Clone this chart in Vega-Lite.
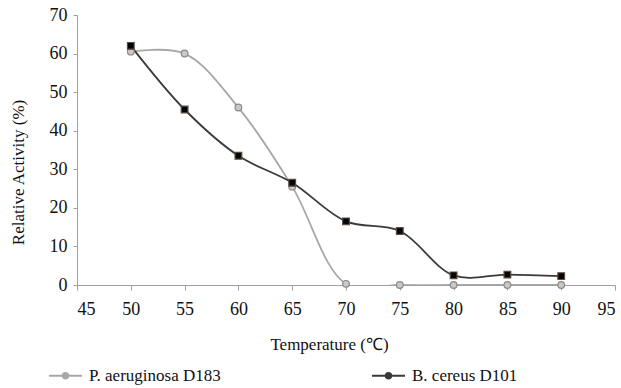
{
  "$schema": "https://vega.github.io/schema/vega-lite/v6.json",
  "width": 538,
  "height": 270,
  "autosize": {"type": "none"},
  "padding": {"left": 77, "top": 15, "right": 6, "bottom": 103},
  "background": "white",
  "config": {
    "view": {"stroke": null},
    "font": "Liberation Serif"
  },
  "data": {
    "values": [
      {"strain": "P. aeruginosa D183", "temp": 50, "activity": 60.5},
      {"strain": "P. aeruginosa D183", "temp": 55, "activity": 60},
      {"strain": "P. aeruginosa D183", "temp": 60, "activity": 46},
      {"strain": "P. aeruginosa D183", "temp": 65, "activity": 25.5},
      {"strain": "P. aeruginosa D183", "temp": 70, "activity": 0.3},
      {"strain": "P. aeruginosa D183", "temp": 75, "activity": 0},
      {"strain": "P. aeruginosa D183", "temp": 80, "activity": 0},
      {"strain": "P. aeruginosa D183", "temp": 85, "activity": 0},
      {"strain": "P. aeruginosa D183", "temp": 90, "activity": 0},
      {"strain": "B. cereus D101", "temp": 50, "activity": 62},
      {"strain": "B. cereus D101", "temp": 55, "activity": 45.5},
      {"strain": "B. cereus D101", "temp": 60, "activity": 33.5},
      {"strain": "B. cereus D101", "temp": 65, "activity": 26.5},
      {"strain": "B. cereus D101", "temp": 70, "activity": 16.5},
      {"strain": "B. cereus D101", "temp": 75, "activity": 14},
      {"strain": "B. cereus D101", "temp": 80, "activity": 2.5},
      {"strain": "B. cereus D101", "temp": 85, "activity": 2.7},
      {"strain": "B. cereus D101", "temp": 90, "activity": 2.3}
    ]
  },
  "encoding": {
    "x": {
      "field": "temp",
      "type": "quantitative",
      "scale": {"domain": [45, 95], "nice": false, "zero": false},
      "axis": {
        "title": "Temperature (℃)",
        "values": [45, 50, 55, 60, 65, 70, 75, 80, 85, 90, 95],
        "grid": false,
        "domainColor": "#a0a0a0",
        "tickColor": "#a0a0a0",
        "tickSize": 5,
        "labelFont": "Liberation Serif",
        "labelFontSize": 18,
        "labelColor": "#111",
        "labelPadding": 10,
        "titleFont": "Liberation Serif",
        "titleFontSize": 17,
        "titleFontWeight": "normal",
        "titleColor": "#111",
        "titlePadding": 18,
        "titleX": 252
      }
    },
    "y": {
      "field": "activity",
      "type": "quantitative",
      "scale": {"domain": [0, 70], "nice": false},
      "axis": {
        "title": "Relative Activity (%)",
        "values": [0, 10, 20, 30, 40, 50, 60, 70],
        "grid": false,
        "domainColor": "#a0a0a0",
        "tickColor": "#a0a0a0",
        "tickSize": 4,
        "labelFont": "Liberation Serif",
        "labelFontSize": 18,
        "labelColor": "#111",
        "labelPadding": 6,
        "titleFont": "Liberation Serif",
        "titleFontSize": 17,
        "titleFontWeight": "normal",
        "titleColor": "#111",
        "titlePadding": 22,
        "titleY": 157
      }
    }
  },
  "layer": [
    {
      "mark": {"type": "line", "interpolate": "catmull-rom", "strokeWidth": 1.8, "clip": true},
      "encoding": {
        "color": {
          "field": "strain",
          "type": "nominal",
          "scale": {
            "domain": ["P. aeruginosa D183", "B. cereus D101"],
            "range": ["#a8a8a8", "#3a3a3a"]
          },
          "legend": {
            "title": null,
            "orient": "none",
            "legendX": -29,
            "legendY": 343,
            "direction": "horizontal",
            "columns": 2,
            "columnPadding": 147,
            "symbolType": "M-1,0H1M-0.18,0A0.18,0.18 0 1,0 0.18,0A0.18,0.18 0 1,0 -0.18,0",
            "symbolSize": 1089,
            "symbolStrokeWidth": 1.8,
            "labelOffset": 6,
            "labelFont": "Liberation Serif",
            "labelFontSize": 17,
            "labelColor": "#111",
            "encode": {
              "symbols": {"update": {"fill": {"scale": "color", "field": "value"}}}
            }
          }
        }
      }
    },
    {
      "mark": {"type": "point", "filled": true, "size": 45, "strokeWidth": 1.2, "opacity": 1},
      "encoding": {
        "shape": {
          "condition": {"test": "datum.strain === 'B. cereus D101'", "value": "square"},
          "value": "circle"
        },
        "fill": {
          "condition": {"test": "datum.strain === 'B. cereus D101'", "value": "#050505"},
          "value": "#c8c8c8"
        },
        "stroke": {
          "condition": {"test": "datum.strain === 'B. cereus D101'", "value": "#5a4a40"},
          "value": "#8a8a8a"
        }
      }
    }
  ]
}
